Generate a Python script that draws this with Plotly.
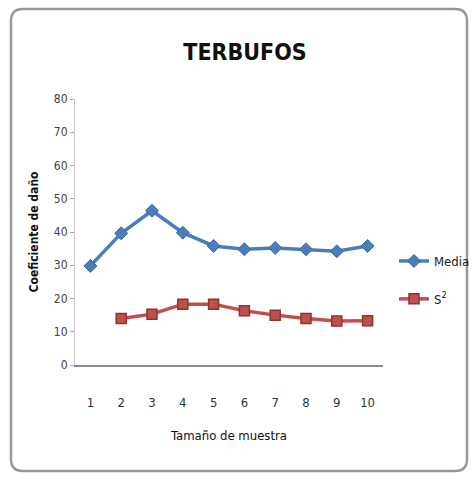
import plotly.graph_objects as go

tamanos = ["1", "2", "3", "4", "5", "6", "7", "8", "9", "10"]
media = [29.8, 39.6, 46.4, 39.8, 35.8, 34.8, 35.2, 34.8, 34.2, 35.8]
s2_tamanos = ["2", "3", "4", "5", "6", "7", "8", "9", "10"]
s2 = [14.0, 15.3, 18.3, 18.3, 16.3, 15.0, 14.0, 13.2, 13.3]
y_ticks = [0, 10, 20, 30, 40, 50, 60, 70, 80]

W, H = 472, 476
L, T = 75, 99
pw, ph = 308, 266
R, B = W - L - pw, H - T - ph
narrow = "Liberation Sans Narrow, DejaVu Sans Condensed, Arial Narrow, sans-serif"


def px(x):
    return (x - L) / pw


def py(y):
    return (T + ph - y) / ph


def rounded_box(x0, y0, x1, y1, r):
    """ Rounded rectangle path in paper coords from pixel corners """
    pts = [
        f"M {px(x0 + r)},{py(y0)}",
        f"L {px(x1 - r)},{py(y0)}",
        f"Q {px(x1)},{py(y0)} {px(x1)},{py(y0 + r)}",
        f"L {px(x1)},{py(y1 - r)}",
        f"Q {px(x1)},{py(y1)} {px(x1 - r)},{py(y1)}",
        f"L {px(x0 + r)},{py(y1)}",
        f"Q {px(x0)},{py(y1)} {px(x0)},{py(y1 - r)}",
        f"L {px(x0)},{py(y0 + r)}",
        f"Q {px(x0)},{py(y0)} {px(x0 + r)},{py(y0)} Z",
    ]
    return " ".join(pts)


fig = go.Figure()
fig.add_trace(go.Scatter(x = tamanos, y = media, mode = "lines+markers", name = "Media",
                         legendgroup = "a",
                         line = dict(color = "#4a7ebb", width = 3.5),
                         marker = dict(symbol = "diamond", size = 10, color = "#4a7ebb",
                                       line = dict(color = "#3a6aa5", width = 1))))
fig.add_trace(go.Scatter(x = s2_tamanos, y = s2, mode = "lines+markers", name = "S<sup>2</sup>",
                         legendgroup = "b",
                         line = dict(color = "#c0504d", width = 3.5),
                         marker = dict(symbol = "square", size = 10, color = "#c0504d",
                                       line = dict(color = "#8c3431", width = 1.5))))

fig.add_shape(type = "path", xref = "paper", yref = "paper",
              path = rounded_box(11, 9, 467, 471, 12),
              line = dict(color = "#999999", width = 2.5), layer = "below")

fig.update_xaxes(type = "category", categoryorder = "array", categoryarray = tamanos,
                 range = [-0.5, 9.5], showgrid = False, zeroline = False, automargin = False,
                 showline = True, linecolor = "#8a8a8a", linewidth = 2,
                 ticks = "", ticklabelstandoff = 24,
                 tickfont = dict(family = narrow, size = 13, color = "#333333"),
                 title = dict(text = "Tamaño de muestra", standoff = 22,
                              font = dict(family = narrow, size = 13, color = "#111111")))
fig.update_yaxes(range = [0, 80], tickvals = y_ticks, showgrid = False, zeroline = False,
                 automargin = False,
                 showline = True, linecolor = "#c8c8c8", linewidth = 1,
                 ticks = "outside", ticklen = 4, tickcolor = "#aaaaaa",
                 tickfont = dict(family = narrow, size = 12, color = "#444444"),
                 title = dict(text = "<b>Coeficiente de daño</b>", standoff = 12,
                              font = dict(family = narrow, size = 12, color = "#111111")))

fig.update_layout(
    width = W, height = H,
    margin = dict(l = L, r = R, t = T, b = B, autoexpand = False),
    paper_bgcolor = "white", plot_bgcolor = "white",
    title = dict(text = "<b>TERBUFOS</b>", x = 245 / W, xanchor = "center",
                 y = 1 - 52 / H, yanchor = "middle", xref = "container", yref = "container",
                 font = dict(family = narrow, size = 23, color = "#111111")),
    legend = dict(x = px(394), y = py(246), xanchor = "left", yanchor = "top",
                  itemwidth = 30, tracegroupgap = 18, bgcolor = "rgba(0,0,0,0)",
                  font = dict(family = narrow, size = 13, color = "#222222")),
    showlegend = True,
)

# drop the page's default body margin so the figure sits at the window corner
fig.write_html("out.html", config = {"displayModeBar": False},
               post_script = "document.body.style.margin = '0';")
